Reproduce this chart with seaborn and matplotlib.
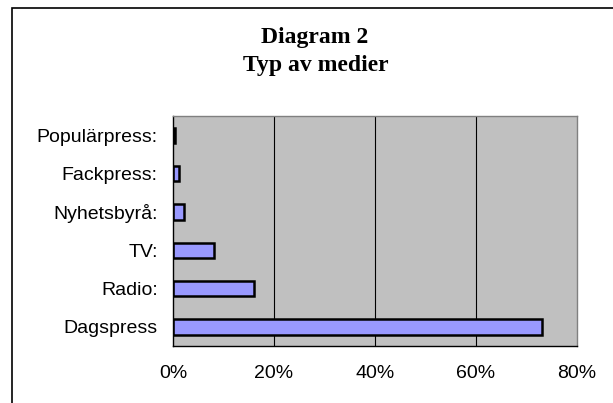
import pandas as pd
import matplotlib.pyplot as plt
import seaborn as sns
from matplotlib.patches import Rectangle
from matplotlib.ticker import FixedLocator

# Data
medier = ["Populärpress:", "Fackpress:", "Nyhetsbyrå:", "TV:", "Radio:", "Dagspress"]
andel = [0.4, 1.2, 2.2, 8.1, 16.0, 73.1]
xticks = [0, 20, 40, 60, 80]
xlabels = ["0%", "20%", "40%", "60%", "80%"]

df = pd.DataFrame({"medie": medier, "andel": andel})

sns.set_style("white")
plt.rcParams["font.family"] = ["Liberation Sans", "DejaVu Sans"]
plt.rcParams["text.color"] = "black"
plt.rcParams["xtick.color"] = "black"
plt.rcParams["ytick.color"] = "black"

fig = plt.figure(figsize=(6.13, 4.03), dpi=100)
fig.patch.set_facecolor("white")

# outer chart frame (runs past the right and bottom edge)
fig.patches.append(Rectangle((12 / 613, -0.05), 1.2, 1 - 8 / 403 + 0.05,
                             transform=fig.transFigure, fill=False,
                             edgecolor="black", linewidth=1.2))

ax = fig.add_axes([173 / 613, 1 - 346 / 403, 404 / 613, 230 / 403])
ax.set_facecolor("#C0C0C0")

sns.barplot(data=df, x="andel", y="medie", orient="h", color="#9999FF",
            saturation=1, edgecolor="black", linewidth=1.8, width=0.4, ax=ax)

ax.set_xlim(0, 80)
ax.set_ylim(len(medier) - 0.5, -0.5)
ax.set_xticks(xticks)
ax.set_xticklabels(xlabels, fontsize=14)
ax.set_xlabel("")
ax.set_ylabel("")
ax.tick_params(axis="y", which="major", length=0, pad=11, labelsize=14)
ax.yaxis.set_minor_locator(FixedLocator([i - 0.5 for i in range(len(medier) + 1)]))
ax.tick_params(axis="y", which="minor", length=4, direction="out", color="black")
ax.tick_params(axis="x", length=4.5, direction="out", color="black", pad=9)

for x in xticks[1:-1]:
    ax.axvline(x, color="black", linewidth=0.8, zorder=0.5)

for side in ["left", "bottom"]:
    ax.spines[side].set_color("black")
    ax.spines[side].set_linewidth(1.0)
for side in ["top", "right"]:
    ax.spines[side].set_color("#808080")
    ax.spines[side].set_linewidth(1.0)

fig.text(315 / 613, 1 - 38 / 403, "Diagram 2", ha="center", va="center",
         fontsize=17, fontweight="bold", family=["Liberation Serif", "DejaVu Serif"])
fig.text(316 / 613, 1 - 65 / 403, "Typ av medier", ha="center", va="center",
         fontsize=17, fontweight="bold", family=["Liberation Serif", "DejaVu Serif"])

fig.savefig("out.png", dpi=100)
